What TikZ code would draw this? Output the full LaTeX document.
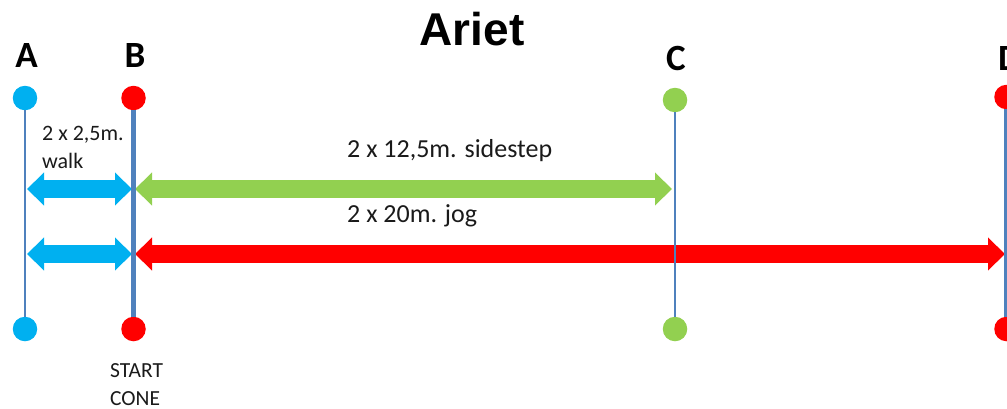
\documentclass[tikz,border=0pt]{standalone}
\usepackage{fontspec}
\setmainfont{Carlito}
\newfontfamily\titlefont{Liberation Sans}
\usetikzlibrary{arrows.meta}
\definecolor{cblue}{HTML}{00B0F0}
\definecolor{cred}{HTML}{FF0000}
\definecolor{cgreen}{HTML}{92D050}
\definecolor{cline}{HTML}{4F81BD}
\definecolor{ctext}{HTML}{1A1A1A}
\begin{document}
\begin{tikzpicture}[x=1pt,y=-1pt,
  dot/.style={circle,inner sep=0pt,minimum size=24.5pt,fill=#1},
  post/.style={draw=cline,line width=2.5pt},
  fat/.style={line width=18pt,{Triangle[length=17pt,width=32pt]}-{Triangle[length=17pt,width=32pt]}},
  lbl/.style={font=\fontsize{37}{44}\selectfont\bfseries,anchor=base,inner sep=0pt},
  txt/.style={font=\fontsize{26}{31}\selectfont,anchor=base west,inner sep=0pt,text=ctext},
  small/.style={font=\fontsize{22}{26}\selectfont,anchor=base west,inner sep=0pt,text=ctext}]
\useasboundingbox (0,0) rectangle (1007,408);
% title
\node[font=\titlefont\fontsize{46}{54}\selectfont\bfseries,anchor=base,inner sep=0pt] (title) at (472,45) {Ariet};
% labels
\node[lbl] (LA) at (26.5,67) {A};
\node[lbl] (LB) at (135,67) {B};
\node[lbl] (LC) at (676,70) {C};
\node[lbl,anchor=base west] (LD) at (998,70) {D};
% arrow end points
\coordinate (b1) at (27,189);
\coordinate (b2) at (132,189);
\coordinate (g1) at (135,189);
\coordinate (g2) at (672,189);
\coordinate (b3) at (27,254);
\coordinate (b4) at (132,254);
\coordinate (r1) at (135,254);
\coordinate (r2) at (1005,254);
% arrows
\draw[fat,cblue] (b1) -- (b2);
\draw[fat,cgreen] (g1) -- (g2);
\draw[fat,cblue] (b3) -- (b4);
\draw[fat,cred] (r1) -- (r2);
% dots
\node[dot=cblue] (At) at (25,98) {};
\node[dot=cblue] (Ab) at (25,329) {};
\node[dot=cred] (Bt) at (133.5,98) {};
\node[dot=cred] (Bb) at (133.5,329) {};
\node[dot=cgreen] (Ct) at (675,100) {};
\node[dot=cgreen] (Cb) at (675,329) {};
\node[dot=cred] (Dt) at (1006.5,97) {};
\node[dot=cred] (Db) at (1006.5,329) {};
% posts
\draw[post] (At) -- (Ab);
\draw[post,line width=4.5pt] (Bt) -- (Bb);
\draw[post] (Ct) -- (Cb);
\draw[post] (1005.5,109) -- (1005.5,317);
% texts
\node[txt] (t1) at (347,157) {2 x 12,5m. sidestep};
\node[txt] (t2) at (347,222) {2 x 20m. jog};
\node[small] (w1) at (42,140) {2 x 2,5m.};
\node[small] (w2) at (42,168) {walk};
\node[small,font=\fontsize{21.5}{26}\selectfont] (s1) at (110,377) {START};
\node[small,font=\fontsize{21.5}{26}\selectfont] (s2) at (110,405) {CONE};
\end{tikzpicture}
\end{document}
